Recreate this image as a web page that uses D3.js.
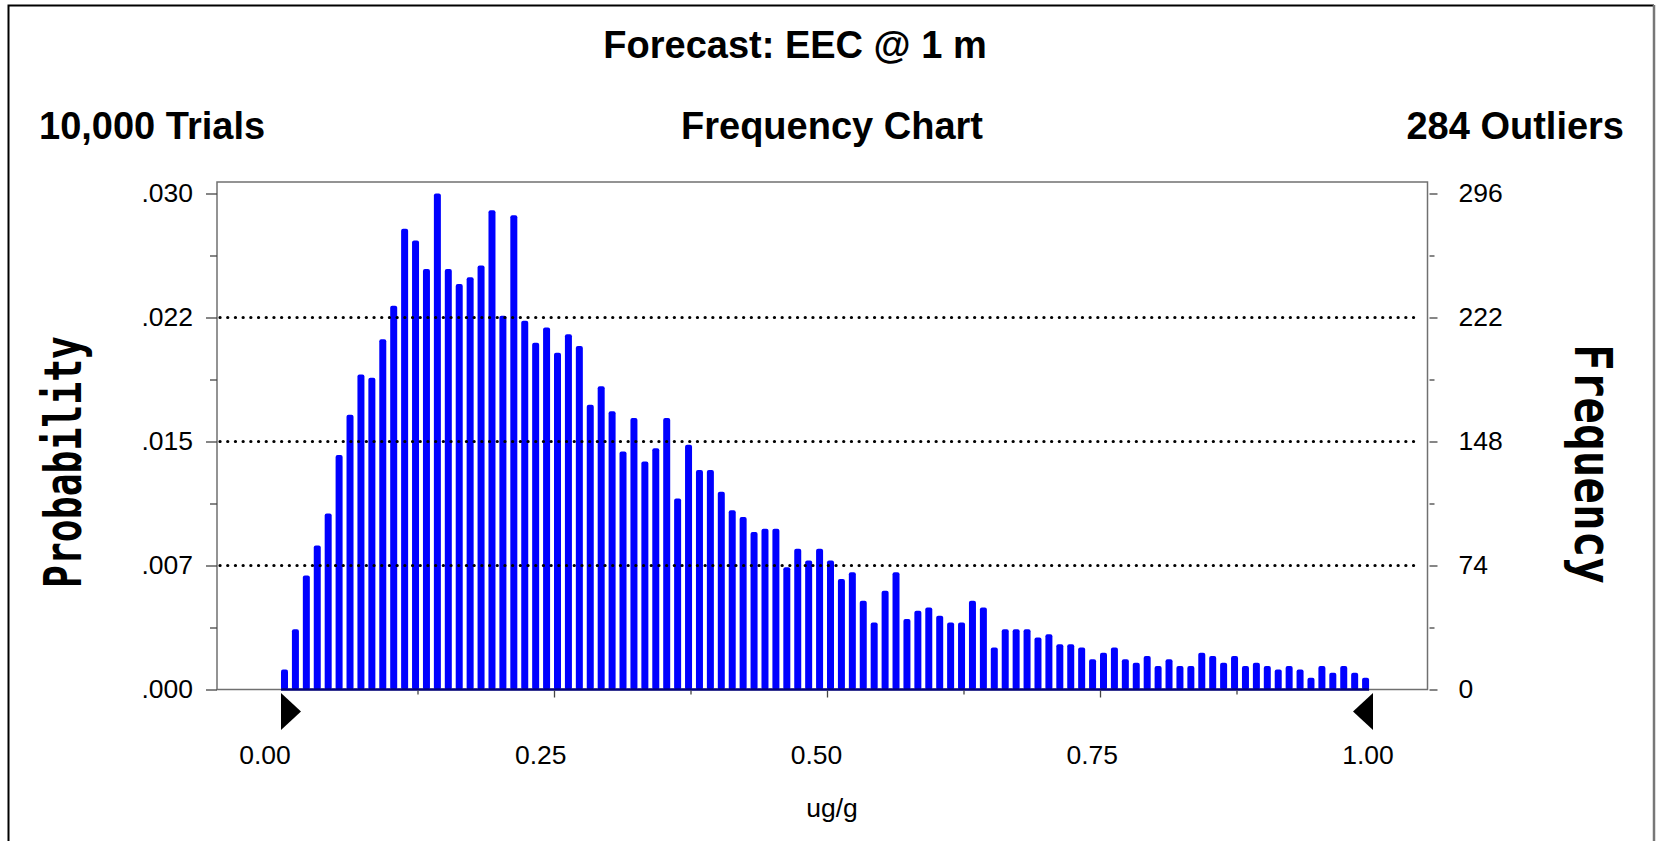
<!DOCTYPE html>
<html lang="en">
<head>
<meta charset="UTF-8">
<title>Forecast: EEC @ 1 m</title>
<script src="https://cdnjs.cloudflare.com/ajax/libs/d3/7.8.5/d3.min.js"></script>
<style>
    body { margin: 0; background: #fff; }
    .tick-label { font-family: "Liberation Sans", Arial, sans-serif; font-size: 26.5px; fill: #000; }
    .head { font-family: "Liberation Sans", Arial, sans-serif; font-weight: bold; font-size: 38px; fill: #000; }
    .side { font-family: "DejaVu Sans Mono", monospace; font-weight: bold; font-size: 52px; fill: #000; }
</style>
</head>
<body>
<div id="chart"></div>
<script>
    const width = 1658, height = 841;

    // frequency per bin (100 bins of 0.01 ug/g, 10,000 trials, 284 outliers)
    const freqs = [
        12, 36, 68, 86, 105, 140, 164, 188, 186, 209,
        229, 275, 268, 251, 296, 251, 242, 246, 253, 286,
        223, 283, 220, 207, 216, 201, 212, 205, 170, 181,
        166, 142, 162, 136, 144, 162, 114, 146, 131, 131,
        118, 107, 103, 94, 96, 96, 73, 84, 77, 84,
        77, 66, 70, 53, 40, 59, 70, 42, 47, 49,
        44, 40, 40, 53, 49, 25, 36, 36, 36, 31,
        33, 27, 27, 25, 18, 22, 25, 18, 16, 20,
        14, 18, 14, 14, 22, 20, 16, 20, 14, 16,
        14, 12, 14, 12, 7, 14, 10, 14, 10, 7
    ];
    const binWidth = 0.01;
    const trials = 10000;
    const displayRange = [0, 1];

    const yTicks = [0, 74, 148, 222, 296];
    const yMinor = [37, 111, 185, 259];
    const xLabels = [0, 0.25, 0.5, 0.75, 1];
    const xMajor = [0.25, 0.5, 0.75];
    const xMinor = [0.125, 0.375, 0.625, 0.875];

    const frame = {left: 217, right: 1427.5, top: 182, bottom: 689.5};

    const svg = d3.select("#chart").append("svg")
        .attr("width", width)
        .attr("height", height);

    // outer border (no bottom edge)
    svg.append("path")
        .attr("d", `M8.5,${height} V5.5 H1654`)
        .attr("fill", "none").attr("stroke", "#000").attr("stroke-width", 2);
    svg.append("line")
        .attr("x1", 1654).attr("x2", 1654).attr("y1", 5).attr("y2", height)
        .attr("stroke", "#777").attr("stroke-width", 2.5);

    const x = d3.scaleLinear().domain(displayRange).range([281, 1373]);
    // label positions in the original sit a little off the tick marks
    const xl = d3.scaleLinear().domain(displayRange).range([265, 1368]);
    const y = d3.scaleLinear().domain([0, 296]).range([frame.bottom, 193.5]);

    // headings
    svg.append("text").attr("class", "head").attr("x", 795).attr("y", 58)
        .attr("text-anchor", "middle").text("Forecast: EEC @ 1 m");
    svg.append("text").attr("class", "head").attr("x", 39).attr("y", 139)
        .text(d3.format(",")(trials) + " Trials");
    svg.append("text").attr("class", "head").attr("x", 832).attr("y", 139)
        .attr("text-anchor", "middle").text("Frequency Chart");
    svg.append("text").attr("class", "head").attr("x", 1624).attr("y", 139)
        .attr("text-anchor", "end").text("284 Outliers");

    // plot frame
    svg.append("rect")
        .attr("x", frame.left).attr("y", frame.top)
        .attr("width", frame.right - frame.left).attr("height", frame.bottom - frame.top)
        .attr("fill", "none").attr("stroke", "#707070").attr("stroke-width", 1.5);

    // bars
    svg.selectAll(".bar")
        .data(freqs)
        .enter()
        .append("rect")
        .attr("class", "bar")
        .attr("x", (d, i) => x(i * binWidth))
        .attr("y", d => y(d))
        .attr("width", 7)
        .attr("height", d => y(0) - y(d))
        .attr("rx", 2)
        .attr("fill", "#0000ff");

    svg.append("line")
        .attr("x1", x(0)).attr("x2", x((freqs.length - 1) * binWidth) + 7)
        .attr("y1", y(0)).attr("y2", y(0))
        .attr("stroke", "#00007a").attr("stroke-width", 2.5);

    // dotted grid lines
    svg.selectAll(".grid")
        .data(yTicks.slice(1, -1))
        .enter()
        .append("line")
        .attr("x1", frame.left + 3).attr("x2", frame.right - 7)
        .attr("y1", d => y(d)).attr("y2", d => y(d))
        .attr("stroke", "#000").attr("stroke-width", 3.2)
        .attr("stroke-linecap", "round")
        .attr("stroke-dasharray", "0.1,7.6");

    // left axis: probability
    const probFmt = d => d3.format(".3f")(d / trials).replace(/^0/, "");
    const left = svg.append("g").attr("transform", `translate(${frame.left},0)`)
        .call(d3.axisLeft(y).tickValues(yTicks).tickSize(11).tickPadding(13).tickFormat(probFmt));
    left.append("g").call(d3.axisLeft(y).tickValues(yMinor).tickSize(7).tickFormat(""));

    // right axis: frequency
    const right = svg.append("g").attr("transform", `translate(${frame.right + 2},0)`)
        .call(d3.axisRight(y).tickValues(yTicks).tickSize(8).tickPadding(21).tickFormat(d3.format("d")));
    right.append("g").call(d3.axisRight(y).tickValues(yMinor).tickSize(5).tickFormat(""));

    // bottom ticks
    const bottom = svg.append("g").attr("transform", `translate(0,${frame.bottom + 1})`)
        .call(d3.axisBottom(x).tickValues(xMajor).tickSize(7).tickFormat(""));
    bottom.append("g").call(d3.axisBottom(x).tickValues(xMinor).tickSize(4).tickFormat(""));

    [left, right, bottom].forEach(g => {
        g.selectAll(".domain").remove();
        g.selectAll("line").attr("stroke", "#444").attr("stroke-width", 1.3);
        g.selectAll("text").attr("class", "tick-label").attr("font-size", null).attr("font-family", null);
    });

    svg.selectAll(".xlabel")
        .data(xLabels)
        .enter()
        .append("text")
        .attr("class", "tick-label")
        .attr("x", d => xl(d))
        .attr("y", 764)
        .attr("text-anchor", "middle")
        .text(d3.format(".2f"));

    svg.append("text").attr("class", "tick-label")
        .attr("x", 832).attr("y", 817).attr("text-anchor", "middle")
        .attr("font-size", "25px")
        .text("ug/g");

    // display range markers
    const tri = 37, tip = 20, triTop = frame.bottom + 3.5;
    svg.append("path")
        .attr("d", `M${x(displayRange[0])},${triTop} v${tri} l${tip},${-tri / 2} z`)
        .attr("fill", "#000");
    svg.append("path")
        .attr("d", `M${x(displayRange[1])},${triTop} v${tri} l${-tip},${-tri / 2} z`)
        .attr("fill", "#000");

    // side titles
    svg.append("text").attr("class", "side")
        .attr("transform", "translate(81,462) rotate(-90)")
        .attr("text-anchor", "middle")
        .attr("textLength", 252).attr("lengthAdjust", "spacingAndGlyphs")
        .text("Probability");
    svg.append("text").attr("class", "side")
        .attr("transform", "translate(1575,464) rotate(90)")
        .attr("text-anchor", "middle")
        .attr("textLength", 240).attr("lengthAdjust", "spacingAndGlyphs")
        .text("Frequency");
</script>
</body>
</html>
